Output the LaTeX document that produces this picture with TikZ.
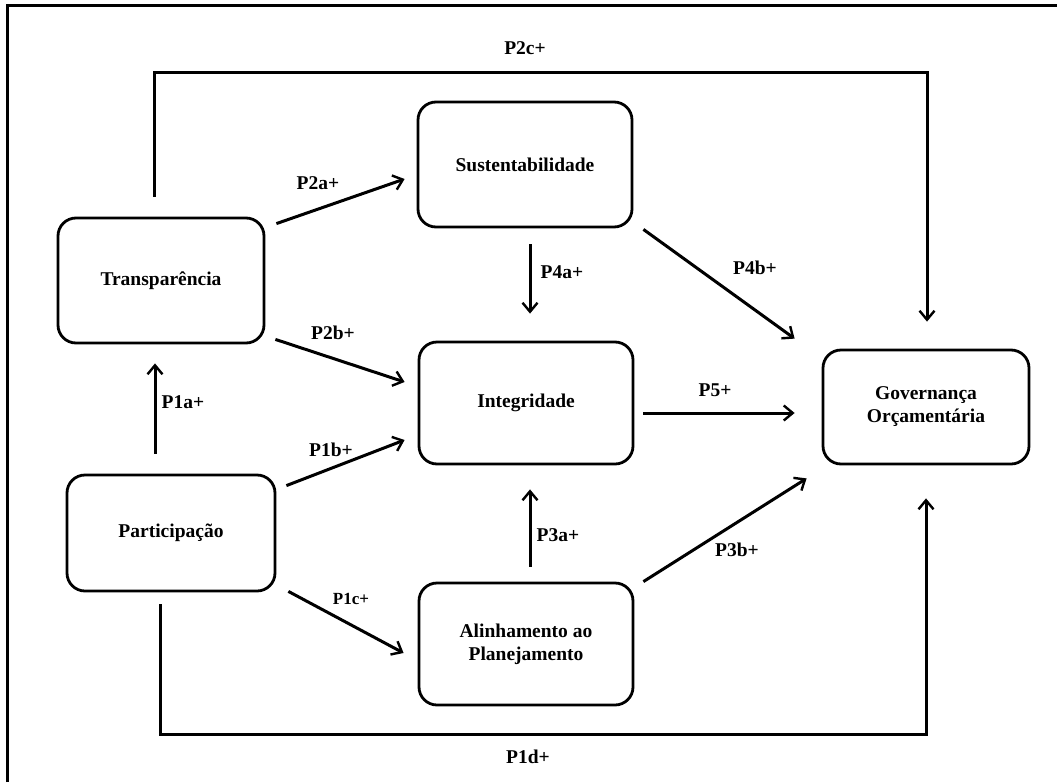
\documentclass[tikz,border=0pt]{standalone}
\usepackage{fontspec}
\setmainfont{Liberation Serif}
\usetikzlibrary{arrows.meta,calc}
\tikzset{
  box/.style={draw, line width=2.8pt, rounded corners=18pt, align=center,
    font=\fontsize{19.5}{23}\selectfont\bfseries, inner sep=0pt},
  conn/.style={line width=3pt, -{Straight Barb[length=9pt,width=15pt,line width=2.4pt]}},
  lbl/.style={font=\fontsize{19.5}{23}\selectfont\bfseries, inner sep=0pt},
  slbl/.style={font=\fontsize{17}{20}\selectfont\bfseries, inner sep=0pt},
  frame/.style={line width=3pt}
}
\begin{document}
\begin{tikzpicture}[x=1pt,y=-1pt]
\useasboundingbox (0,0) rectangle (1057,782);
% outer frame (top and left)
\coordinate (f1) at (7,782);
\coordinate (f2) at (7,5);
\coordinate (f3) at (1057,5);
\draw[frame] (f1) -- (f2) -- (f3);

% nodes
\node[box, minimum width=214pt, minimum height=125pt] (su) at (525,164.5) {Sustentabilidade};
\node[box, minimum width=206pt, minimum height=125pt] (tr) at (161,280.5) {Transparência};
\node[box, minimum width=208pt, minimum height=116pt] (pa) at (171,533) {Participação};
\node[box, minimum width=214pt, minimum height=122pt] (in) at (526,403) {Integridade};
\node[box, minimum width=214pt, minimum height=122pt] (al) at (526,644) {Alinhamento ao\\Planejamento};
\node[box, minimum width=206pt, minimum height=114pt] (go) at (926,407) {Governança\\Orçamentária};

% connectors
\draw[conn] ($(tr.north east)+(11,7)$) -- ($(su.west)+(-12,14.5)$);
\draw[conn] ($(tr.south east)+(10,-5)$) -- ($(in.west)+(-13,-21)$);
\draw[conn] ($(pa.north east)+(10,12)$) -- ($(in.west)+(-13,37)$);
\draw[conn] ($(pa.south east)+(12,-1)$) -- ($(al.west)+(-14,9)$);
\draw[conn] ($(pa.north)+(-16,-20)$) -- ($(tr.south)+(-6,19)$);
\draw[conn] ($(su.south)+(5,16)$) -- ($(in.north)+(4,-27)$);
\draw[conn] ($(al.north)+(4,-15)$) -- ($(in.south)+(4,24)$);
\draw[conn] ($(in.east)+(9,10)$) -- ($(go.west)+(-27,6)$);
\draw[conn] ($(su.south east)+(10,1)$) -- ($(go.north west)+(-27,-10)$);
\draw[conn] ($(al.north east)+(9,0)$) -- ($(go.south west)+(-15,13)$);
\draw[conn] ($(tr.north)+(-7,-20)$) |- (527,72) -| ($(go.north)+(1,-27)$);
\draw[conn] ($(pa.south)+(-11,12)$) |- (527,734) -| ($(go.south)+(0,33)$);

% labels
\node[lbl] (l2c) at (525,48) {P2c+};
\node[lbl] (l2a) at (318,183) {P2a+};
\node[lbl] (l2b) at (333,333) {P2b+};
\node[lbl] (l1b) at (331,450) {P1b+};
\node[slbl] (l1c) at (351,599) {P1c+};
\node[lbl] (l1a) at (183,402) {P1a+};
\node[lbl] (l4a) at (562,272) {P4a+};
\node[lbl] (l4b) at (755,268) {P4b+};
\node[lbl] (l5) at (715,390) {P5+};
\node[lbl] (l3a) at (558,535) {P3a+};
\node[lbl] (l3b) at (737,550) {P3b+};
\node[lbl] (l1d) at (528,757) {P1d+};
\end{tikzpicture}
\end{document}
